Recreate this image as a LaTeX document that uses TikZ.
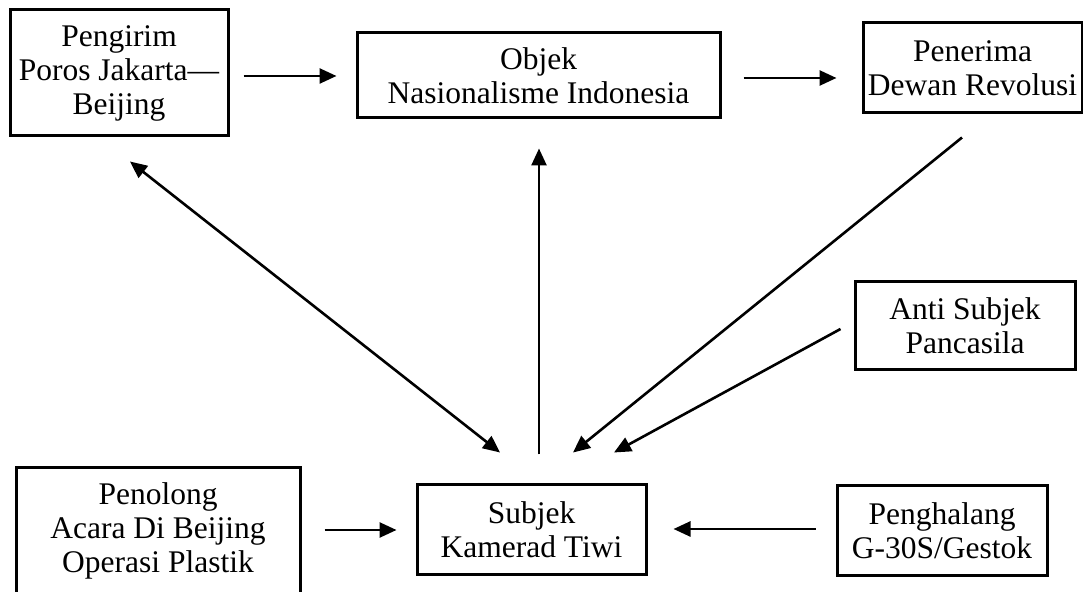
\documentclass[tikz,border=0pt]{standalone}
\usepackage{fontspec}
\setmainfont{Liberation Serif}
\usetikzlibrary{arrows.meta,calc}
\begin{document}
\begin{tikzpicture}[x=1pt,y=1pt,
  box/.style={draw,line width=3pt,rectangle,inner sep=0pt,align=center,
    font=\fontsize{31.5}{34}\selectfont},
  tip/.style={Triangle[length=17pt,width=15pt]},
  arr/.style={line width=2.6pt,-{Triangle[length=17pt,width=15pt]}},
  darr/.style={line width=2.6pt,{Triangle[length=17pt,width=15pt]}-{Triangle[length=17pt,width=15pt]}}]
\useasboundingbox (0,0) rectangle (1083,591);
\clip (0,0) rectangle (1083,591);

% boxes
\node[box,minimum width=218pt,minimum height=126pt] (pengirim) at (119,518)
  {Pengirim\\Poros Jakarta—\\Beijing};
\node[box,minimum width=363pt,minimum height=85pt] (objek) at (538.5,515.5)
  {Objek\\Nasionalisme Indonesia};
\node[box,minimum width=219pt,minimum height=90pt] (penerima) at (972.5,523)
  {Penerima\\Dewan Revolusi};
\node[box,minimum width=220pt,minimum height=88pt] (anti) at (965,265)
  {Anti Subjek\\Pancasila};
\node[box,minimum width=284pt,minimum height=126pt] (penolong) at (158,60)
  {Penolong\\Acara Di Beijing\\Operasi Plastik};
\node[box,minimum width=229pt,minimum height=90pt] (subjek) at (531.5,61)
  {Subjek\\Kamerad Tiwi};
\node[box,minimum width=210pt,minimum height=90pt] (penghalang) at (942,60)
  {Penghalang\\G-30S/Gestok};

% horizontal connectors
\draw[arr] ($(pengirim.east)+(14,-3)$) -- ($(objek.west)+(-19,-0.5)$);
\draw[arr] ($(objek.east)+(22,-2.5)$) -- ($(penerima.west)+(-25,-10)$);
\draw[arr] ($(penolong.east)+(23,1)$) -- ($(subjek.west)+(-19,0)$);
\draw[arr] ($(penghalang.west)+(-20,2)$) -- ($(subjek.east)+(26,1)$);

% connectors around the subject
\draw[darr] ($(pengirim.south)+(11,-24)$) -- ($(subjek.north)+(-31.5,31)$);
\draw[arr] ($(subjek.north)+(7.5,29)$) -- ($(objek.south)+(0.5,-29)$);
\draw[arr] ($(penerima.south)+(-10.5,-23)$) -- ($(subjek.north)+(41.5,31)$);
\draw[arr] ($(anti.west)+(-13,-3)$) -- ($(subjek.north)+(82.5,31)$);
\end{tikzpicture}
\end{document}
